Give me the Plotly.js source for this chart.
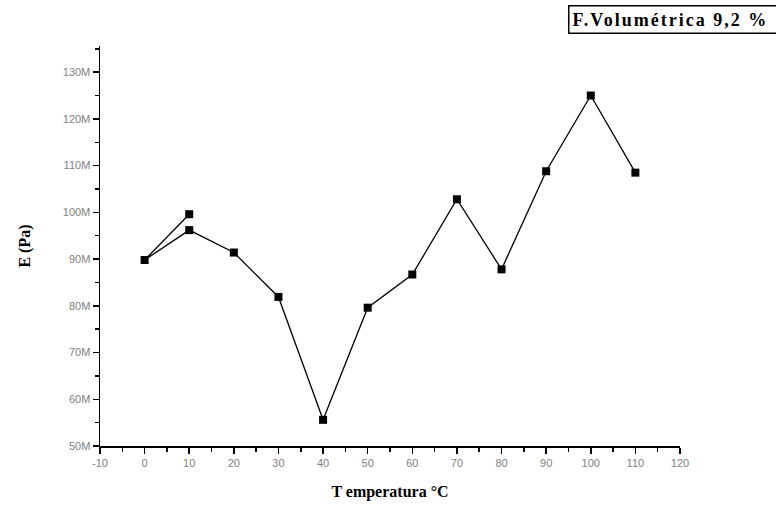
<!DOCTYPE html>
<html>
<head>
<meta charset="utf-8">
<script src="https://cdn.plot.ly/plotly-3.0.1.min.js"></script>
<style>html,body{margin:0;padding:0;background:#fff;}#chart{width:776px;height:506px;}</style>
</head>
<body>
<div id="chart"></div>
<script>
// Data (order as connected in the plot)
const temperatura = [10, 0, 10, 20, 30, 40, 50, 60, 70, 80, 90, 100, 110];
const moduloE = [99.6e6, 89.8e6, 96.2e6, 91.4e6, 81.9e6, 55.6e6, 79.6e6, 86.7e6, 102.8e6, 87.8e6, 108.8e6, 125.0e6, 108.5e6];
const yTickVals = [50e6, 60e6, 70e6, 80e6, 90e6, 100e6, 110e6, 120e6, 130e6];
const yTickText = ["50M", "60M", "70M", "80M", "90M", "100M", "110M", "120M", "130M"];
const xTickVals = [-10, 0, 10, 20, 30, 40, 50, 60, 70, 80, 90, 100, 110, 120];
const xTickText = ["-10", "0", "10", "20", "30", "40", "50", "60", "70", "80", "90", "100", "110", "120"];
const legendLabel = "F.Volumétrica 9,2 %";

const trace = {
  x: temperatura,
  y: moduloE,
  mode: "lines+markers",
  type: "scatter",
  line: {color: "#000", width: 1.3},
  marker: {symbol: "square", size: 8, color: "#000"},
  showlegend: false
};

const layout = {
  width: 776, height: 506,
  margin: {l: 100, r: 96, t: 46, b: 60},
  paper_bgcolor: "#fff", plot_bgcolor: "#fff",
  xaxis: {
    range: [-10, 120], tickvals: xTickVals, ticktext: xTickText,
    showgrid: false, zeroline: false,
    showline: true, linecolor: "#000", linewidth: 1.5,
    ticks: "outside", ticklen: 6, tickwidth: 1.5, tickcolor: "#000",
    minor: {dtick: 5, tick0: -5, ticks: "outside", ticklen: 4, tickwidth: 1.5, tickcolor: "#000", showgrid: false},
    tickfont: {family: "Liberation Sans, Arial", size: 11, color: "#808080"},
    title: {text: "<b>T emperatura °C</b>", font: {family: "Liberation Serif, Times New Roman", size: 16, color: "#000"}, standoff: 18}
  },
  yaxis: {
    range: [50e6, 135.6e6], tickvals: yTickVals, ticktext: yTickText,
    showgrid: false, zeroline: false,
    showline: true, linecolor: "#000", linewidth: 1.5,
    ticks: "outside", ticklen: 6, tickwidth: 1.5, tickcolor: "#000",
    minor: {dtick: 5e6, tick0: 55e6, ticks: "outside", ticklen: 4, tickwidth: 1.5, tickcolor: "#000", showgrid: false},
    tickfont: {family: "Liberation Sans, Arial", size: 11, color: "#808080"},
    title: {text: "<b>E (Pa)</b>", font: {family: "Liberation Serif, Times New Roman", size: 16, color: "#000"}, standoff: 28}
  },
  annotations: [{
    xref: "paper", yref: "paper", x: 0.807, y: 1.0675, xanchor: "left", yanchor: "middle",
    text: "<b><span style=\"letter-spacing:2px\">" + legendLabel + "</span></b>", showarrow: false,
    width: 210, align: "left",
    font: {family: "Liberation Serif, Times New Roman", size: 18, color: "#000"},
    bordercolor: "#000", borderwidth: 1.5, borderpad: 3, bgcolor: "#fff"
  }]
};

Plotly.newPlot("chart", [trace], layout, {displayModeBar: false, staticPlot: true});
</script>
</body>
</html>
